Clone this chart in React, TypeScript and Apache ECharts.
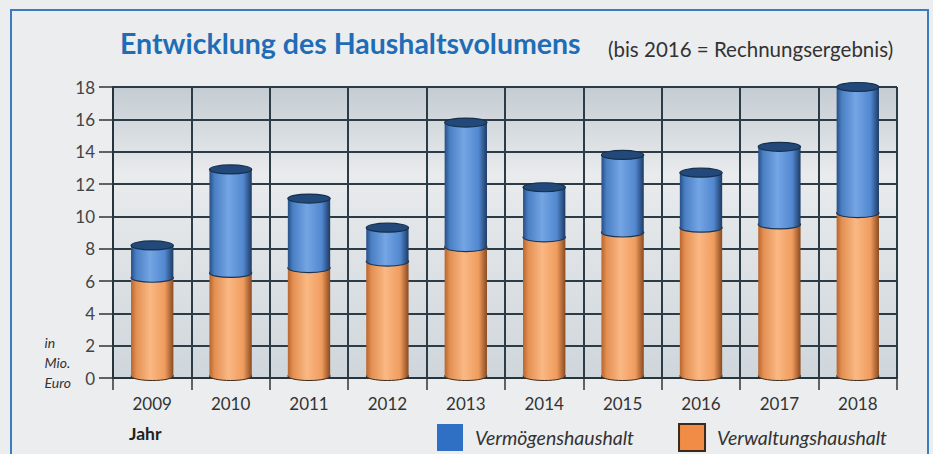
import React, { useEffect, useRef } from "react";
import * as echarts from "echarts";

const categories = ["2009", "2010", "2011", "2012", "2013", "2014", "2015", "2016", "2017", "2018"];
const verwaltung = [6.2, 6.5, 6.8, 7.2, 8.1, 8.7, 9.0, 9.3, 9.5, 10.2];
const vermoegen = [2.0, 6.4, 4.3, 2.1, 7.7, 3.1, 4.8, 3.4, 4.8, 7.8];
const yTicks = { min: 0, max: 18, interval: 2 };

const FONT = "Lato, 'Open Sans', sans-serif";

const grad = (stops: [number, string][]) => ({
  type: "linear",
  x: 0,
  y: 0,
  x2: 1,
  y2: 0,
  colorStops: stops.map(([offset, color]) => ({ offset, color })),
});

const orangeGrad = grad([
  [0, "#b8642c"],
  [0.12, "#e38f52"],
  [0.45, "#fab883"],
  [0.8, "#f09c5e"],
  [1, "#8a4a20"],
]);
const blueGrad = grad([
  [0, "#274f85"],
  [0.12, "#4a7fc4"],
  [0.45, "#74a5e4"],
  [0.8, "#5288d0"],
  [1, "#1c3a63"],
]);

export default function App() {
  const ref = useRef<HTMLDivElement>(null);
  useEffect(() => {
    if (!ref.current) return;
    const chart = echarts.init(ref.current, null, { renderer: "svg" });
    const data = categories.map((c, i) => [i, verwaltung[i], vermoegen[i]]);
    chart.setOption({
      animation: false,
      backgroundColor: "#ecedef",
      textStyle: { fontFamily: FONT },
      title: [
        {
          text: "Entwicklung des Haushaltsvolumens",
          left: 115,
          top: 23,
          textStyle: { fontSize: 28.5, fontWeight: "bold", color: "#1f6db6", fontFamily: FONT },
        },
        {
          text: "(bis 2016 = Rechnungsergebnis)",
          left: 603,
          top: 33,
          textStyle: { fontSize: 20.5, fontWeight: "normal", color: "#333", fontFamily: FONT },
        },
      ],
      legend: {
        left: 432,
        top: 418,
        itemWidth: 26,
        itemHeight: 27,
        itemGap: 44,
        icon: "rect",
        data: ["Vermögenshaushalt", "Verwaltungshaushalt"],
        textStyle: {
          fontSize: 19.5,
          fontStyle: "italic",
          color: "#333",
          fontFamily: FONT,
          padding: [0, 0, 0, 7],
        },
      },
      grid: {
        left: 113,
        right: 36,
        top: 87,
        bottom: 76,
        show: true,
        borderWidth: 0,
        backgroundColor: {
          type: "linear",
          x: 0,
          y: 0,
          x2: 0,
          y2: 1,
          colorStops: [
            { offset: 0, color: "#c4ccd2" },
            { offset: 0.3, color: "#e9ebed" },
            { offset: 1, color: "#cfd6db" },
          ],
        },
      },
      xAxis: {
        type: "category",
        data: categories,
        boundaryGap: true,
        axisLine: { lineStyle: { color: "#26343e", width: 2 } },
        axisTick: { show: true, length: 12, lineStyle: { color: "#333", width: 1.5 } },
        axisLabel: { fontSize: 17, color: "#333", margin: 17, fontFamily: FONT },
        splitLine: { show: true, lineStyle: { color: "#2c3c46", width: 2 } },
      },
      yAxis: {
        type: "value",
        min: yTicks.min,
        max: yTicks.max,
        interval: yTicks.interval,
        axisLine: { show: true, lineStyle: { color: "#26343e", width: 2 } },
        axisTick: { show: true, length: 14, lineStyle: { color: "#333", width: 1.5 } },
        axisLabel: { fontSize: 17, color: "#444", margin: 18, fontFamily: FONT },
        splitLine: { show: true, lineStyle: { color: "#2c3c46", width: 2 } },
      },
      graphic: [
        {
          type: "rect",
          shape: { x: 11, y: 10, width: 917, height: 460 },
          style: { fill: "none", stroke: "#3b7cc0", lineWidth: 2 },
          silent: true,
        },
        {
          type: "text",
          right: 933 - 71,
          top: 332,
          style: {
            text: "in\nMio.\nEuro",
            align: "right",
            fontSize: 14,
            fontStyle: "italic",
            lineHeight: 20,
            fill: "#333",
            fontFamily: FONT,
          },
        },
        {
          type: "text",
          left: 129,
          top: 424,
          style: { text: "Jahr", fontSize: 17.5, fontWeight: "bold", fill: "#222", fontFamily: FONT },
        },
      ],
      series: [
        {
          name: "Vermögenshaushalt",
          type: "bar",
          data: [],
          itemStyle: { color: "#2f6fc4" },
        },
        {
          name: "Verwaltungshaushalt",
          type: "bar",
          data: [],
          itemStyle: { color: "#f08c45", borderColor: "#3a2a1e", borderWidth: 1 },
        },
        {
          name: "cylinders",
          type: "custom",
          data,
          encode: { x: 0, y: [1, 2] },
          renderItem: (params: any, api: any) => {
            const i = api.value(0);
            const a = api.value(1);
            const b = api.value(2);
            const base = api.coord([i, 0]);
            const p1 = api.coord([i, a]);
            const p2 = api.coord([i, a + b]);
            const w = api.size([1, 0])[0] * 0.54;
            const cx = base[0];
            const x = cx - w / 2;
            const ry = 4.5;
            return {
              type: "group",
              children: [
                {
                  type: "ellipse",
                  shape: { cx, cy: base[1] - 2, rx: w / 2, ry },
                  style: { fill: orangeGrad, stroke: "#3a2a1e", lineWidth: 1 },
                },
                {
                  type: "rect",
                  shape: { x, y: p1[1], width: w, height: base[1] - 2 - p1[1] },
                  style: { fill: orangeGrad },
                },
                {
                  type: "ellipse",
                  shape: { cx, cy: p1[1], rx: w / 2, ry },
                  style: { fill: blueGrad, stroke: "#1e3550", lineWidth: 1.2 },
                },
                {
                  type: "rect",
                  shape: { x, y: p2[1], width: w, height: p1[1] - p2[1] },
                  style: { fill: blueGrad },
                },
                {
                  type: "ellipse",
                  shape: { cx, cy: p2[1], rx: w / 2, ry },
                  style: { fill: "#23497a", stroke: "#15304f", lineWidth: 1.2 },
                },
              ],
            };
          },
        },
      ],
    });
    return () => chart.dispose();
  }, []);
  return (
    <div
      ref={ref}
      style={{ position: "fixed", left: 0, top: 0, width: 933, height: 454 }}
    />
  );
}
